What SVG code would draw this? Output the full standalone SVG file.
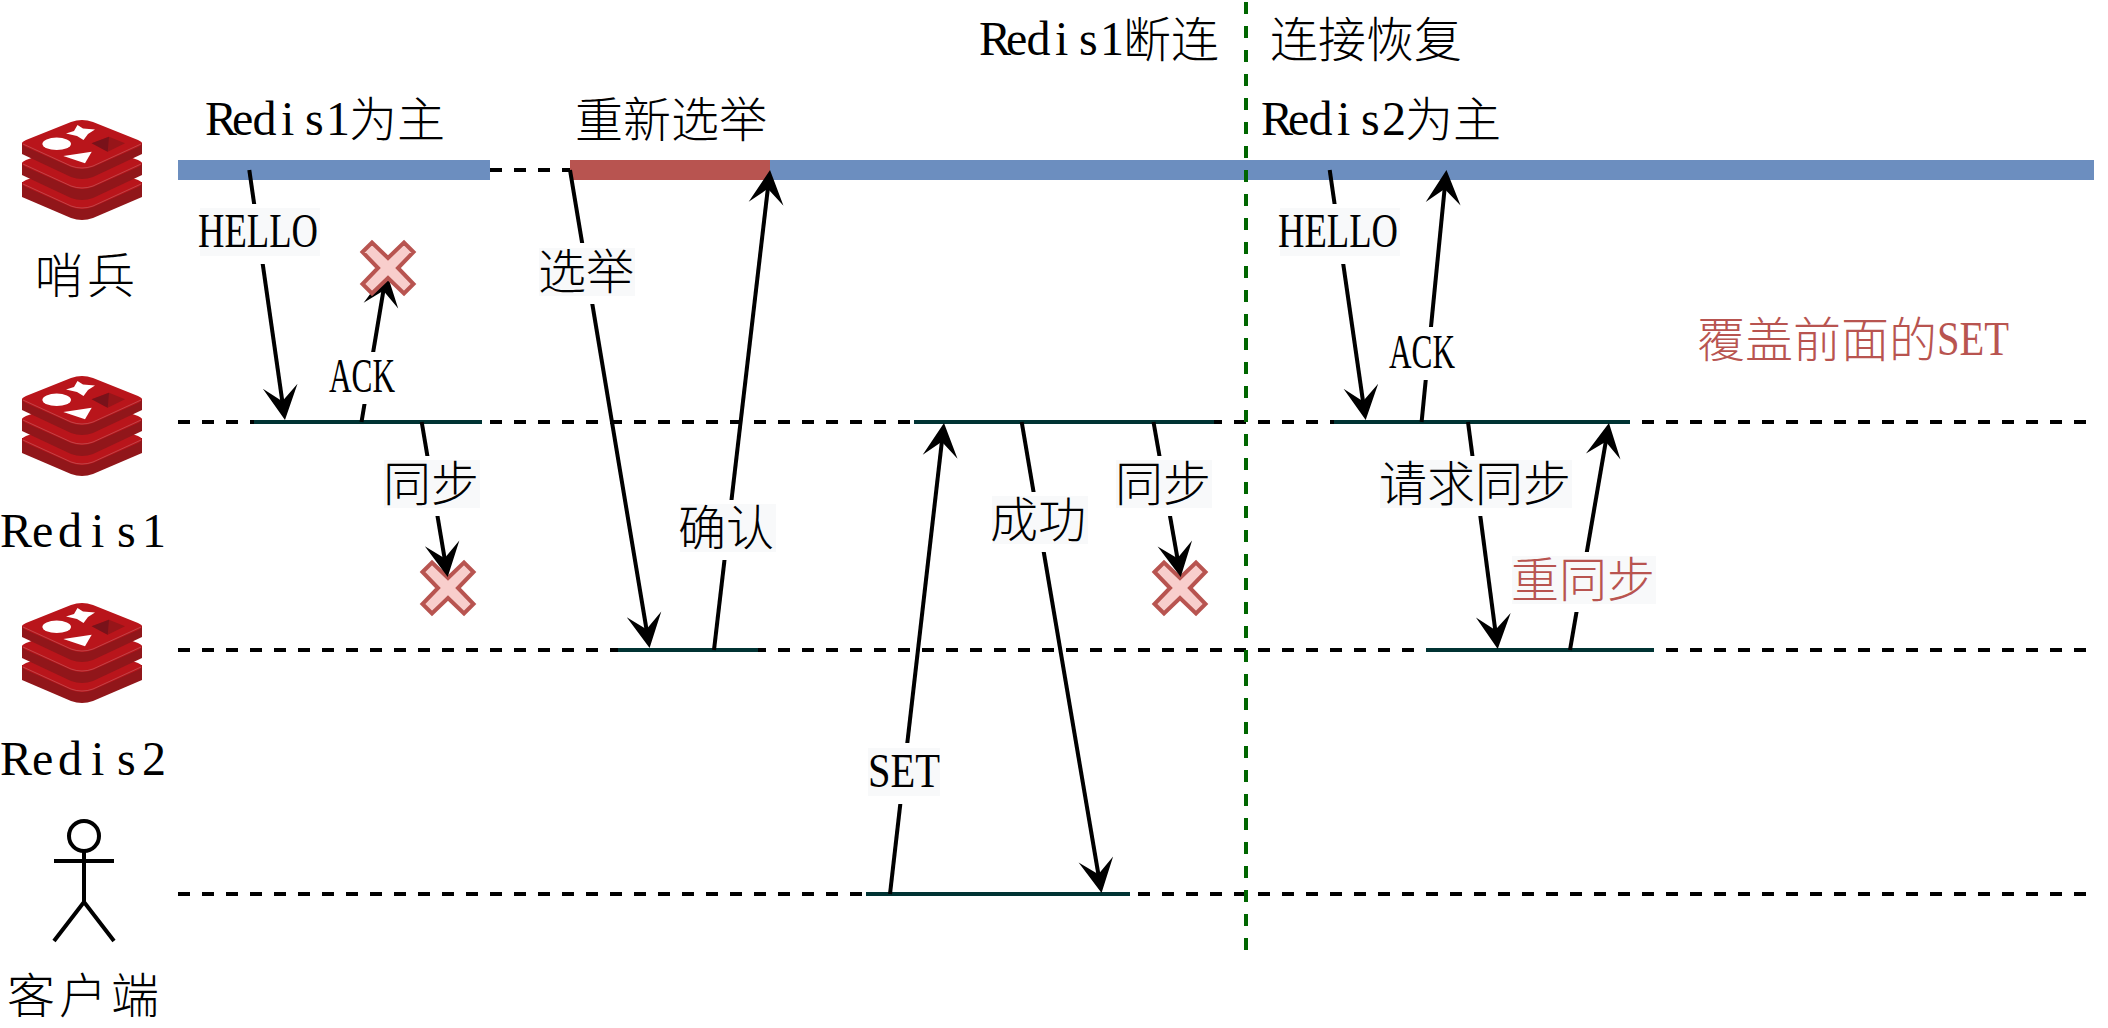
<svg xmlns="http://www.w3.org/2000/svg" xmlns:xlink="http://www.w3.org/1999/xlink" width="2108" height="1028" viewBox="0 0 2108 1028">
<style>
text{font-family:"Liberation Serif","Noto Sans CJK SC",serif;font-size:48px;font-weight:300;fill:#000}
.red{fill:#b85450}
.life{stroke:#000;stroke-width:4;stroke-dasharray:12 12;fill:none}
.active{stroke:#003333;stroke-width:4;fill:none}
.arrow{stroke:#000;stroke-width:4;fill:none;marker-end:url(#head)}
.bg{fill:#f8f9fa}
.gap{fill:#fff}
.x{fill:#f8cecc;stroke:#b85450;stroke-width:4}
.actor{fill:none;stroke:#000;stroke-width:4}
.side{fill:#91161a}
.face{fill:#b9151b}
.edge{fill:none;stroke:#d08a8c;stroke-width:.4}
</style>
<defs>
<marker id="head" markerUnits="userSpaceOnUse" markerWidth="40" markerHeight="40" viewBox="0 0 40 40" refX="20" refY="20" orient="auto" overflow="visible"><path d="M34,20 L0,2.5 L15,20 L0,37.5 Z" fill="#000"/></marker>
<path id="cross" d="M-25.5,-16 L-16,-25.5 L0,-10 L16,-25.5 L25.5,-16 L10,0 L25.5,16 L16,25.5 L0,10 L-16,25.5 L-25.5,16 L-10,0 Z"/>
<g id="redis">
<path class="side" d="M0,62 V77 L49,98 Q60,102 71,98 L120,77 V62 Z"/>
<path class="face" d="M49,44 Q60,40 71,44 L116,60 Q120,62 120,63 Q120,65 116,67 L71,87 Q60,91 49,87 L4,67 Q0,65 0,63 Q0,62 4,60 Z"/>
<path class="edge" d="M1,64 L49,86 Q60,90 71,86 L119,64"/>
<path class="side" d="M0,43 V55 L49,78 Q60,82 71,78 L120,55 V43 Z"/>
<path class="face" d="M49,24 Q60,20 71,24 L116,40 Q120,42 120,43 Q120,45 116,47 L71,67 Q60,71 49,67 L4,47 Q0,45 0,43 Q0,42 4,40 Z"/>
<path class="edge" d="M1,44 L49,66 Q60,70 71,66 L119,44"/>
<path class="side" d="M0,23 V34 L49,57 Q60,61 71,57 L120,34 V23 Z"/>
<path class="face" d="M49,2 Q60,-2 71,2 L116,20 Q120,22 120,23 Q120,25 116,27 L71,47 Q60,51 49,47 L4,27 Q0,25 0,23 Q0,22 4,20 Z"/>
<path class="edge" d="M1,24 L49,46 Q60,50 71,46 L119,24"/>
<polygon fill="#fff" points="44,13.5 52,11 55.5,5 61,8.5 73,9.5 66,14 61.5,20 55,16"/>
<ellipse fill="#fff" cx="34.7" cy="23.8" rx="14.3" ry="6.2"/>
<polygon fill="#fff" points="41.3,36 69.7,31.7 63,43.3"/>
<polygon fill="#971519" points="69.7,23.3 87,16.7 103,23.3 85.7,31.7"/>
<polygon fill="#79121a" points="69.7,23.3 87,16.7 85.7,31.7"/>
</g>
</defs>
<g id="connectors">
<line class="life" x1="178" y1="170" x2="570" y2="170"/>
<line class="life" x1="178" y1="422" x2="2086" y2="422"/>
<line class="life" x1="178" y1="650" x2="2086" y2="650"/>
<line class="life" x1="178" y1="894" x2="2086" y2="894"/>
<rect x="178" y="160" width="312" height="20" fill="#6c8ebf"/>
<rect x="570" y="160" width="200" height="20" fill="#b85450"/>
<rect x="770" y="160" width="1324" height="20" fill="#6c8ebf"/>
<line class="active" x1="254" y1="422" x2="482" y2="422"/>
<line class="active" x1="914" y1="422" x2="1214" y2="422"/>
<line class="active" x1="1334" y1="422" x2="1630" y2="422"/>
<line class="active" x1="618" y1="650" x2="758" y2="650"/>
<line class="active" x1="1426" y1="650" x2="1654" y2="650"/>
<line class="active" x1="866" y1="894" x2="1130" y2="894"/>
<line x1="1246" y1="2" x2="1246" y2="950" stroke="#006600" stroke-width="4" stroke-dasharray="12 12"/>
</g>
<g id="failures-lower">
<use xlink:href="#cross" href="#cross" class="x" x="448" y="588"/>
<use xlink:href="#cross" href="#cross" class="x" x="1180" y="588"/>
</g>
<g id="arrows">
<line class="arrow" x1="249.3" y1="170" x2="283" y2="406.1"/>
<line class="arrow" x1="361.5" y1="422" x2="384.2" y2="285.8"/>
<line class="arrow" x1="421.7" y1="422" x2="445.4" y2="563.2"/>
<line class="arrow" x1="570" y1="170" x2="647.3" y2="634.2"/>
<line class="arrow" x1="714" y1="650" x2="768.4" y2="183.9"/>
<line class="arrow" x1="890" y1="894" x2="942.4" y2="436.9"/>
<line class="arrow" x1="1021.7" y1="422" x2="1099.2" y2="879.2"/>
<line class="arrow" x1="1153.5" y1="422" x2="1178.3" y2="563.2"/>
<line class="arrow" x1="1329.7" y1="170" x2="1363.7" y2="406.1"/>
<line class="arrow" x1="1421.6" y1="422" x2="1445.1" y2="183.9"/>
<line class="arrow" x1="1468" y1="422" x2="1495.9" y2="635"/>
<line class="arrow" x1="1570" y1="650" x2="1606.6" y2="436.8"/>
</g>
<g id="failures-upper">
<use xlink:href="#cross" href="#cross" class="x" x="388" y="268"/>
</g>
<g id="edge-labels">
<rect class="gap" x="200" y="204" width="120" height="60"/><rect class="bg" x="200" y="208" width="120" height="48"/>
<text x="198" y="247" textLength="120" lengthAdjust="spacingAndGlyphs">HELLO</text>
<rect class="gap" x="328" y="352" width="68" height="52"/>
<text x="329" y="392" textLength="66" lengthAdjust="spacingAndGlyphs">ACK</text>
<rect class="gap" x="384" y="456" width="96" height="60"/><rect class="bg" x="384" y="460" width="96" height="48"/>
<text x="383" y="501">同步</text>
<rect class="gap" x="539" y="243" width="96" height="61"/><rect class="bg" x="539" y="248" width="96" height="48"/>
<text x="538" y="289">选举</text>
<rect class="gap" x="680" y="500" width="96" height="60"/><rect class="bg" x="680" y="504" width="96" height="48"/>
<text x="678" y="545">确认</text>
<rect class="gap" x="868" y="743" width="72" height="61"/><rect class="bg" x="868" y="748" width="72" height="48"/>
<text x="868" y="787" textLength="72" lengthAdjust="spacingAndGlyphs">SET</text>
<rect class="gap" x="992" y="492" width="96" height="60"/><rect class="bg" x="992" y="496" width="96" height="48"/>
<text x="990" y="537">成功</text>
<rect class="gap" x="1116" y="456" width="96" height="60"/><rect class="bg" x="1116" y="460" width="96" height="48"/>
<text x="1115" y="501">同步</text>
<rect class="gap" x="1280" y="204" width="120" height="60"/><rect class="bg" x="1280" y="208" width="120" height="48"/>
<text x="1278" y="247" textLength="120" lengthAdjust="spacingAndGlyphs">HELLO</text>
<rect class="gap" x="1388" y="327" width="68" height="53"/>
<text x="1389" y="368" textLength="66" lengthAdjust="spacingAndGlyphs">ACK</text>
<rect class="gap" x="1380" y="456" width="192" height="60"/><rect class="bg" x="1380" y="460" width="192" height="48"/>
<text x="1379" y="501">请求同步</text>
<rect class="gap" x="1512" y="552" width="144" height="60"/><rect class="bg" x="1512" y="556" width="144" height="48"/>
<text class="red" x="1511" y="597">重同步</text>
</g>
<g id="titles">
<text x="205 232 252.5 281 305 326 349 397" y="135 135 135 135 135 135 137 137">Redis1为主</text>
<text x="575" y="137">重新选举</text>
<text x="979 1006 1026.5 1055 1079 1100 1123 1171" y="55 55 55 55 55 55 57 57">Redis1断连</text>
<text x="1270" y="57">连接恢复</text>
<text x="1261 1288 1308.5 1337 1361 1382 1405 1453" y="135 135 135 135 135 135 137 137">Redis2为主</text>
<text class="red" x="1697" y="357">覆盖前面的<tspan y="355" textLength="72" lengthAdjust="spacingAndGlyphs">SET</tspan></text>
</g>
<g id="sentinel">
<use xlink:href="#redis" href="#redis" x="22" y="120"/>
<text x="35 87" y="293">哨兵</text>
</g>
<g id="redis1">
<use xlink:href="#redis" href="#redis" x="22" y="376"/>
<text x="0 32 58 91 117 142" y="547">Redis1</text>
</g>
<g id="redis2">
<use xlink:href="#redis" href="#redis" x="22" y="603"/>
<text x="0 32 58 91 117 142" y="775">Redis2</text>
</g>
<g id="client">
<circle class="actor" cx="84" cy="836" r="15"/>
<path class="actor" d="M84,851 V902 M54,861 H114 M54,941 L84,902 L114,941"/>
<text x="7 59 111" y="1013">客户端</text>
</g>
</svg>
